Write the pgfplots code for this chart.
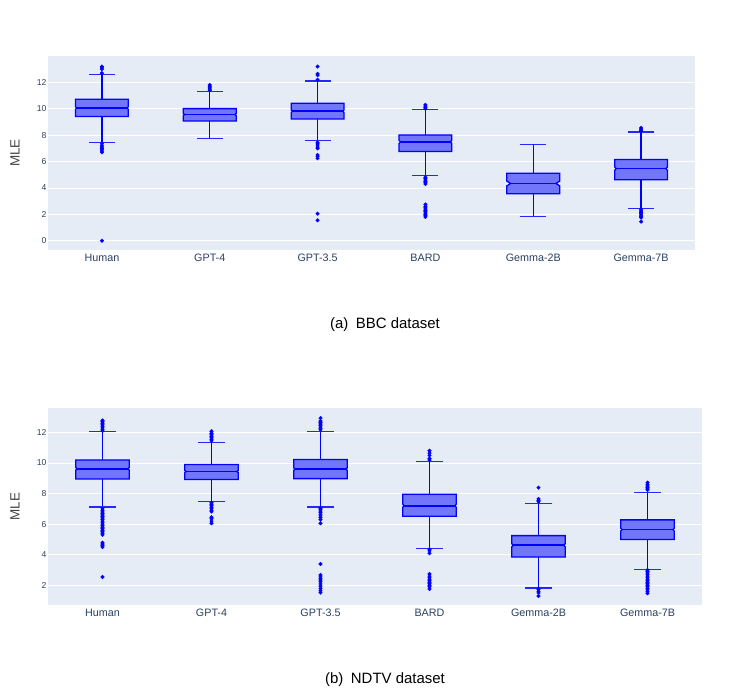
\documentclass[border=0pt]{standalone}
\usepackage{pgfplots}
\pgfplotsset{compat=1.18}
\usepackage{fontspec}
\setmainfont{Liberation Sans}
\definecolor{plotbg}{HTML}{E5ECF6}
\definecolor{tickc}{HTML}{2A3F5F}
\definecolor{labc}{HTML}{444444}
\definecolor{boxfill}{RGB}{114,118,250}

% notched box: #1 pos, #2 lower whisker, #3 Q1, #4 median, #5 Q3, #6 upper whisker, #7 notch half-height, #8 notch indent
\newcommand{\nbox}[8]{%
  \pgfmathsetmacro\xl{#1-0.245}\pgfmathsetmacro\xr{#1+0.245}%
  \pgfmathsetmacro\xli{#1-0.245+#8}\pgfmathsetmacro\xri{#1+0.245-#8}%
  \pgfmathsetmacro\ml{#4-#7}\pgfmathsetmacro\mh{#4+#7}%
  \pgfmathsetmacro\cl{#1-0.12}\pgfmathsetmacro\cr{#1+0.12}%
  \edef\tmp{\noexpand\addplot[blue, line width=1.3bp] coordinates {(#1,#5) (#1,#6)};}\tmp
  \edef\tmp{\noexpand\addplot[blue, line width=1.3bp] coordinates {(#1,#3) (#1,#2)};}\tmp
  \edef\tmp{\noexpand\addplot[blue!85!white, line width=1.3bp] coordinates {(\cl,#6) (\cr,#6)};}\tmp
  \edef\tmp{\noexpand\addplot[blue!85!white, line width=1.3bp] coordinates {(\cl,#2) (\cr,#2)};}\tmp
  \edef\tmp{\noexpand\addplot[fill=boxfill, draw=blue, line width=1.3bp] coordinates {(\xl,#3) (\xr,#3) (\xr,\ml) (\xri,#4) (\xr,\mh) (\xr,#5) (\xl,#5) (\xl,\mh) (\xli,#4) (\xl,\ml)} -- cycle;}\tmp
  \edef\tmp{\noexpand\addplot[blue, line width=1.7bp] coordinates {(\xli,#4) (\xri,#4)};}\tmp
}

\pgfplotsset{
  mlestyle/.style={
    scale only axis,
    axis background/.style={fill=plotbg},
    xmin=-0.5, xmax=5.5,
    xtick={0,1,2,3,4,5},
    xticklabels={Human,GPT-4,GPT-3.5,BARD,Gemma-2B,Gemma-7B},
    ymajorgrids,
    grid style={white, line width=0.9bp},
    axis line style={draw=none},
    major tick length=0pt,
    tick label style={color=tickc},
    yticklabel style={font=\fontsize{8.6}{10}\selectfont, inner sep=1.5bp},
    xticklabel style={font=\fontsize{10.8}{12}\selectfont, inner sep=0pt, yshift=-4bp},
    /pgf/number format/assume math mode=true,
    ylabel={MLE},
    every axis y label/.style={at={(axis description cs:0,0.5)}, rotate=90, anchor=center, yshift=33bp, font=\fontsize{13.5}{15}\selectfont, color=labc},
    outl/.style={only marks, mark=*, mark size=1.8bp, blue, mark options={draw=blue, fill=blue}},
  }
}

\begin{document}
\begin{tikzpicture}[x=1bp,y=1bp]
\path[use as bounding box] (0,0) rectangle (747,690);

% ---------------- (a) BBC ----------------
\begin{axis}[mlestyle, at={(48bp,440bp)}, anchor=south west, width=647bp, height=194bp,
  ymin=-0.7, ymax=14.0, ytick={0,2,4,6,8,10,12}]
  \nbox{0}{7.47}{9.41}{10.06}{10.72}{12.60}{0.10}{0.012}
  \nbox{1}{7.74}{9.08}{9.56}{10.01}{11.32}{0.08}{0.012}
  \nbox{2}{7.59}{9.23}{9.81}{10.42}{12.10}{0.10}{0.012}
  \nbox{3}{4.92}{6.76}{7.49}{8.02}{9.96}{0.12}{0.015}
  \nbox{4}{1.84}{3.56}{4.34}{5.12}{7.31}{0.18}{0.035}
  \nbox{5}{2.45}{4.62}{5.47}{6.16}{8.25}{0.13}{0.015}
  \addplot[outl] coordinates {(0,13.2)(0,13.1)(0,13.0)(0,12.7)(0,7.35)(0,7.2)(0,7.1)(0,7.0)(0,6.9)(0,6.8)(0,6.7)(0,0.0)};
  \addplot[outl] coordinates {(1,11.8)(1,11.7)(1,11.6)(1,11.5)(1,11.4)};
  \addplot[outl] coordinates {(2,13.2)(2,12.65)(2,12.55)(2,12.2)(2,7.45)(2,7.35)(2,7.25)(2,7.1)(2,7.0)(2,6.5)(2,6.4)(2,6.25)(2,2.05)(2,1.55)};
  \addplot[outl] coordinates {(3,10.3)(3,10.2)(3,10.1)(3,10.0)(3,4.8)(3,4.7)(3,4.6)(3,4.5)(3,4.4)(3,4.3)(3,2.75)(3,2.6)(3,2.5)(3,2.4)(3,2.3)(3,2.2)(3,2.1)(3,2.0)(3,1.9)(3,1.8)};
  \addplot[outl] coordinates {(5,8.55)(5,8.45)(5,8.35)(5,8.3)(5,2.35)(5,2.25)(5,2.15)(5,2.05)(5,1.95)(5,1.85)(5,1.75)(5,1.45)};
\end{axis}

% ---------------- (b) NDTV ----------------
\begin{axis}[mlestyle, at={(48bp,85bp)}, anchor=south west, width=654bp, height=197bp,
  ymin=0.71, ymax=13.6, ytick={2,4,6,8,10,12}]
  \nbox{0}{7.13}{8.96}{9.62}{10.20}{12.04}{0.08}{0.012}
  \nbox{1}{7.48}{8.92}{9.44}{9.90}{11.36}{0.07}{0.012}
  \nbox{2}{7.13}{8.98}{9.60}{10.23}{12.08}{0.08}{0.012}
  \nbox{3}{4.40}{6.52}{7.21}{7.96}{10.12}{0.10}{0.012}
  \nbox{4}{1.82}{3.85}{4.62}{5.25}{7.34}{0.10}{0.015}
  \nbox{5}{3.05}{4.99}{5.64}{6.28}{8.09}{0.09}{0.012}
  \addplot[outl] coordinates {(0,12.1)(0,12.2)(0,12.3)(0,12.4)(0,12.5)(0,12.6)(0,12.7)(0,12.78)
    (0,7.0)(0,6.9)(0,6.8)(0,6.7)(0,6.6)(0,6.5)(0,6.4)(0,6.3)(0,6.2)(0,6.1)(0,6.0)(0,5.9)(0,5.8)(0,5.7)(0,5.6)(0,5.5)(0,5.4)(0,5.3)
    (0,4.79)(0,4.7)(0,4.6)(0,4.5)(0,2.54)};
  \addplot[outl] coordinates {(1,12.08)(1,11.95)(1,11.85)(1,11.75)(1,11.65)(1,11.55)(1,11.45)
    (1,7.4)(1,7.3)(1,7.2)(1,7.1)(1,7.0)(1,6.9)(1,6.82)(1,6.45)(1,6.35)(1,6.2)(1,6.06)};
  \addplot[outl] coordinates {(2,12.94)(2,12.75)(2,12.65)(2,12.55)(2,12.45)(2,12.35)(2,12.25)(2,12.17)
    (2,7.04)(2,6.95)(2,6.85)(2,6.75)(2,6.6)(2,6.45)(2,6.3)(2,6.06)(2,3.39)
    (2,2.67)(2,2.55)(2,2.45)(2,2.35)(2,2.24)(2,2.09)(2,1.95)(2,1.8)(2,1.65)(2,1.52)};
  \addplot[outl] coordinates {(3,10.8)(3,10.65)(3,10.5)(3,10.3)(3,10.2)(3,4.36)(3,4.25)(3,4.1)
    (3,2.74)(3,2.6)(3,2.5)(3,2.4)(3,2.3)(3,2.2)(3,2.1)(3,2.0)(3,1.9)(3,1.76)};
  \addplot[outl] coordinates {(4,8.39)(4,7.65)(4,7.55)(4,7.47)(4,1.74)(4,1.6)(4,1.5)(4,1.3)};
  \addplot[outl] coordinates {(5,8.72)(5,8.6)(5,8.5)(5,8.4)(5,8.3)(5,8.24)
    (5,3.0)(5,2.9)(5,2.8)(5,2.7)(5,2.6)(5,2.5)(5,2.4)(5,2.3)(5,2.2)(5,2.1)(5,2.0)(5,1.9)(5,1.8)(5,1.7)(5,1.6)(5,1.48)};
\end{axis}

\node[font=\fontsize{15}{18}\selectfont, anchor=center] at (385,365) {(a)\enspace BBC dataset};
\node[font=\fontsize{15}{18}\selectfont, anchor=center] at (385,10) {(b)\enspace NDTV dataset};
\end{tikzpicture}
\end{document}
